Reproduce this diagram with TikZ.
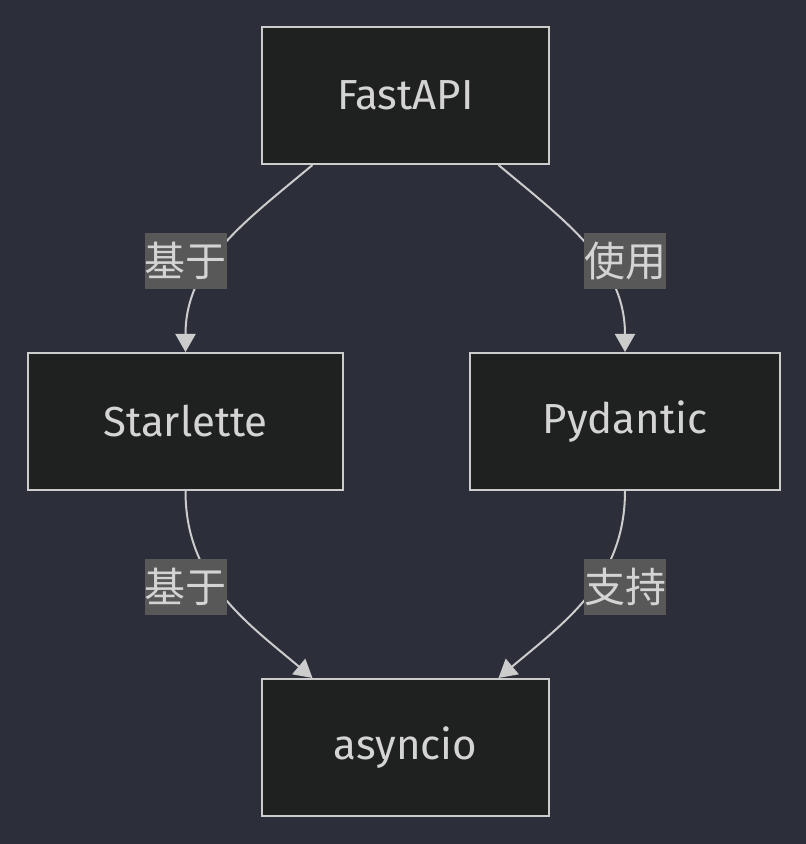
\documentclass[tikz,border=0pt]{standalone}
\usepackage{fontspec}
\setmainfont{Fira Sans}
\newfontfamily\cjk{Noto Sans CJK SC}
\usepackage{xcolor}
\usetikzlibrary{arrows.meta, positioning}
\definecolor{canvas}{HTML}{2C2F3A}
\definecolor{boxfill}{HTML}{1F2020}
\definecolor{boxline}{HTML}{CCCCCC}
\definecolor{labelfill}{HTML}{585858}
\definecolor{inktext}{HTML}{D4D4D4}
\tikzset{
    module/.style={
        rectangle,
        draw=boxline,
        line width=2pt,
        minimum width=287pt,
        minimum height=137pt,
        fill=boxfill,
        text=inktext,
        font=\fontsize{42}{46}\selectfont
    },
    edgelabel/.style={
        rectangle,
        fill=labelfill,
        inner sep=0pt,
        minimum width=81pt,
        minimum height=56pt,
        text=inktext,
        font=\fontsize{41}{44}\selectfont\cjk
    },
    link/.style={
        draw=boxline,
        line width=2pt,
        -{Triangle[width=20pt,length=18pt]}
    }
}
\begin{document}
\begin{tikzpicture}[x=1pt, y=1pt]

% Canvas
\fill[canvas] (0,0) rectangle (806,844);
\useasboundingbox (0,0) rectangle (806,844);

% Modules
\node[module] (fastapi) at (405.5,748.5) {FastAPI};
\node[module, minimum width=315pt, below=187pt of fastapi, xshift=-220pt] (starlette) {Starlette};
\node[module, minimum width=310pt, below=187pt of fastapi, xshift=219.5pt] (pydantic) {Pydantic};
\node[module, below=187pt of starlette, xshift=220pt] (asyncio) {asyncio};

% Connections
\draw[link] ([xshift=-93pt]fastapi.south) to[out=-140, in=90] (starlette.north);
\draw[link] ([xshift=93pt]fastapi.south) to[out=-40, in=90] (pydantic.north);
\draw[link] (starlette.south) to[out=-90, in=140] ([xshift=-93pt]asyncio.north);
\draw[link] (pydantic.south) to[out=-90, in=40] ([xshift=93pt]asyncio.north);

% Edge labels
\node[edgelabel, above=63pt of starlette] (based1) {基于};
\node[edgelabel, above=63pt of pydantic] (uses) {使用};
\node[edgelabel, below=68pt of starlette] (based2) {基于};
\node[edgelabel, below=68pt of pydantic] (supports) {支持};

\end{tikzpicture}
\end{document}
